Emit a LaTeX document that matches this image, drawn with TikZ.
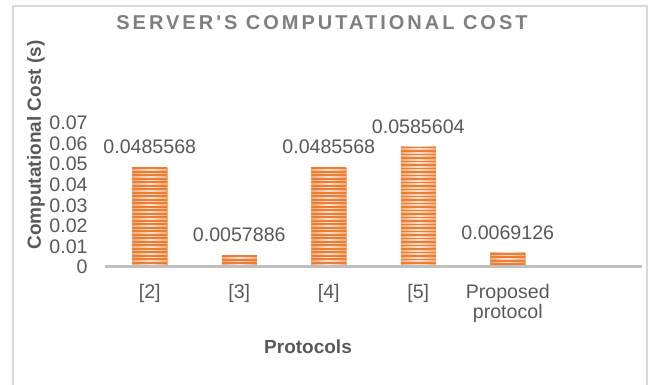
\documentclass[tikz,border=0pt]{standalone}
\usepackage{fontspec}
\setmainfont{Liberation Sans}
\newfontfamily\titlefont[LetterSpace=15]{Liberation Sans}
\usetikzlibrary{calc}
\definecolor{barorange}{HTML}{ED7D31}
\definecolor{txtgray}{HTML}{595959}
\definecolor{titlegray}{HTML}{7F7F7F}
\definecolor{axisgray}{HTML}{BFBFBF}
\definecolor{framegray}{HTML}{D9D9D9}
\tikzset{
  lbl/.style={text=txtgray, font=\fontsize{9.8}{10}\selectfont, inner sep=0pt},
  axtitle/.style={text=txtgray, font=\fontsize{9.5}{10}\selectfont\bfseries, inner sep=0pt},
  charttitle/.style={text=titlegray, font=\fontsize{10}{12}\selectfont\titlefont\bfseries, inner sep=0pt},
  barbg/.style={left color=barorange!65, right color=barorange!65, middle color=barorange!22},
  stripe/.style={barorange, line width=0.9pt}
}

\begin{document}
\begin{tikzpicture}[x=0.5pt,y=-0.5pt]
  \useasboundingbox (0,0) rectangle (649,385);
  % chart frame
  \draw[framegray, line width=0.75pt] (13,385) -- (13,6) -- (647,6) -- (647,385);
  \node[charttitle] (title) at (322,23) {SERVER'S COMPUTATIONAL COST};

  % value axis
  \foreach \v [count=\i from 0] in {0,0.01,0.02,0.03,0.04,0.05,0.06,0.07}
    \node[lbl, anchor=east] (tick\i) at (88,{267-20.57*\i}) {\v};
  \node[axtitle, rotate=90] (ytitle) at (36,145) {Computational Cost (s)};

  % bars
  \foreach \v/\t [count=\i] in {0.0485568/{[2]}, 0.0057886/{[3]}, 0.0485568/{[4]},
      0.0585604/{[5]}, 0.0069126/{Proposed\\protocol}} {
    \pgfmathsetmacro\cx{60.25+89.5*\i}
    \pgfmathsetmacro\bartop{267-2057*\v}
    \begin{scope}
      \clip (\cx-17.5,\bartop) rectangle (\cx+17.5,267);
      \fill[barbg] (\cx-17.5,\bartop) rectangle (\cx+17.5,267);
      \foreach \s in {1,4.5,...,130}
        \draw[stripe] (\cx-17.5,\bartop+\s) -- ++(35,0);
    \end{scope}
    \node[lbl] (val\i) at (\cx,\bartop-20) {\v};
    \node[lbl, anchor=north, align=center] (cat\i) at (\cx,284) {\t};
  }

  % category axis
  \coordinate (axl) at (105,267);
  \coordinate (axr) at (642,267);
  \draw[axisgray, line width=1.5pt] (axl) -- (axr);
  \node[axtitle] (xtitle) at (308,347) {Protocols};
\end{tikzpicture}
\end{document}
